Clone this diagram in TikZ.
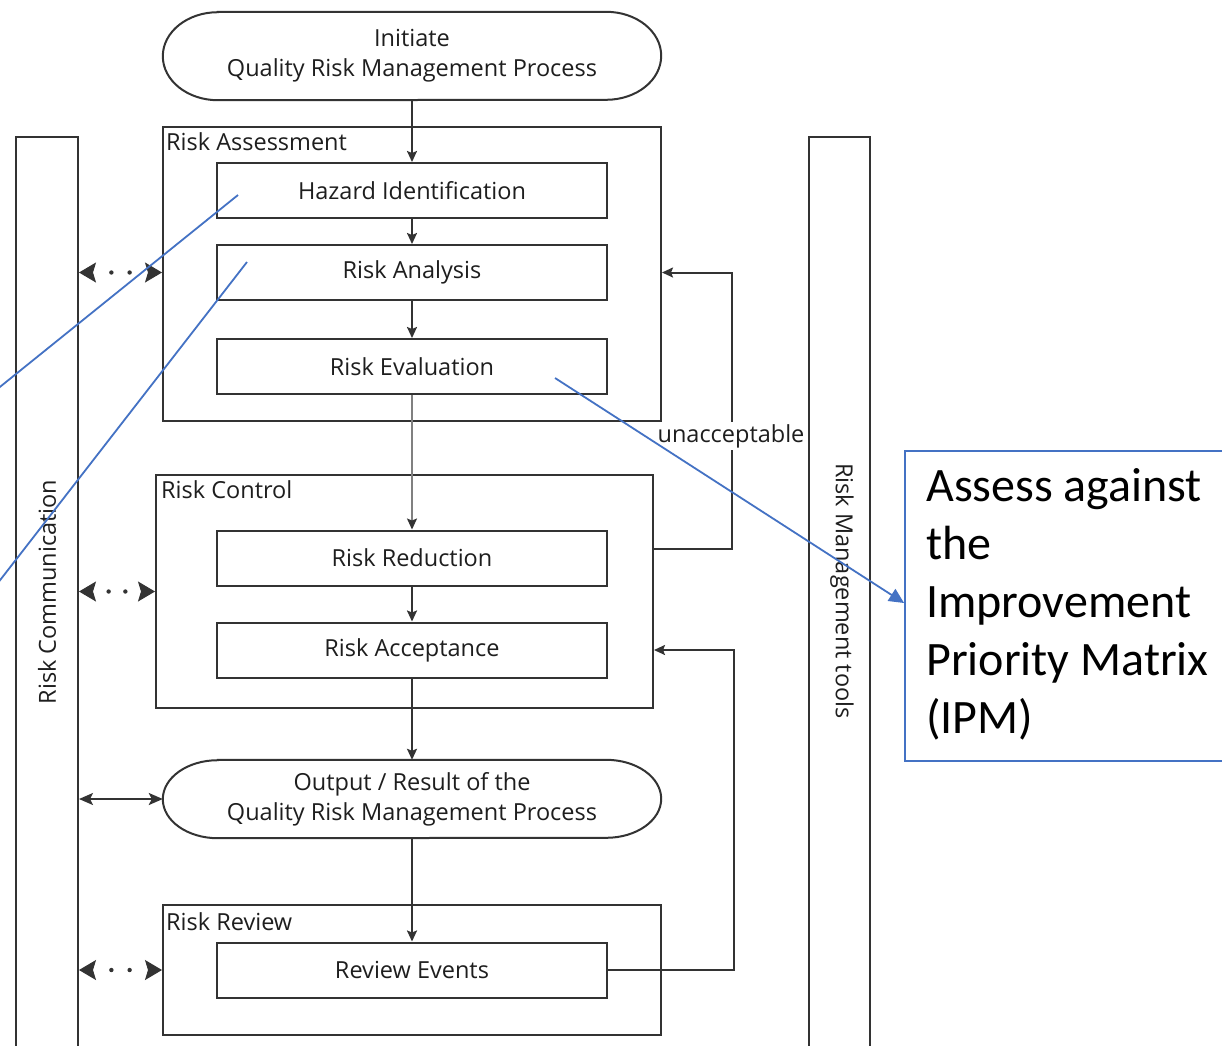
\documentclass[tikz,border=0pt]{standalone}
\usepackage{fontspec}
\setmainfont{Open Sans}
\newfontfamily\calloutfont{Carlito}
\usetikzlibrary{arrows.meta,decorations.markings,calc}

\definecolor{linec}{HTML}{333333}
\definecolor{txt}{HTML}{1E1E1E}
\definecolor{office}{HTML}{4472C4}

\newcommand\diagfont{\fontsize{23.5}{30}\selectfont}

% outline of a stadium-shaped terminal around a named node
\newcommand\stadiumoutline[3]{%
  \draw[frame] ([xshift=#2]#1.north west) -- ([xshift=-#2]#1.north east)
    arc[start angle=90,end angle=-90,x radius=#2,y radius=#3]
    -- ([xshift=#2]#1.south west)
    arc[start angle=270,end angle=90,x radius=#2,y radius=#3] -- cycle;}

\begin{document}
\begin{tikzpicture}[x=1pt,y=-1pt,
  every node/.style={font=\diagfont, text=txt},
  frame/.style={draw=linec, line width=2pt},
  procbox/.style={frame, rectangle, minimum width=390pt, minimum height=55pt, inner sep=0pt},
  group/.style={frame, rectangle, inner sep=0pt},
  stadium/.style={rectangle, align=center, inner sep=0pt, minimum width=498pt},
  column/.style={frame, rectangle, inner sep=0pt, minimum height=910pt},
  grouplabel/.style={anchor=base west, inner sep=0pt},
  conn/.style={draw=linec, line width=2pt, -{Stealth[length=11pt,width=10pt,inset=2pt]}},
  midconn/.style={draw=gray, line width=1.6pt, -{Stealth[length=11pt,width=10pt,inset=2pt,color=linec]}},
  twoway/.style={draw=linec, line width=2pt,
    {Stealth[length=14pt,width=12pt,inset=3pt]}-{Stealth[length=14pt,width=12pt,inset=3pt]}},
  dotconn/.style={draw=white, line width=1pt,
    {Stealth[length=17pt,width=20pt,inset=3pt,color=linec,fill=linec]}-{Stealth[length=17pt,width=20pt,inset=3pt,color=linec,fill=linec]},
    postaction={decorate, decoration={markings,
      mark=at position 0.39 with {\fill[linec] (0,0) circle (2.2pt);},
      mark=at position 0.61 with {\fill[linec] (0,0) circle (2.2pt);}}}},
  blueline/.style={draw=office, line width=1.8pt},
  bluearrow/.style={blueline, -{Triangle[length=15pt,width=14pt]}},
  callbox/.style={draw=office, line width=1.8pt, rectangle, inner sep=0pt,
    minimum width=340pt, minimum height=310pt},
  calltext/.style={font={\calloutfont\fontsize{48}{58}\selectfont}, text=black,
    align=left, inner sep=0pt, anchor=base west}
]
\useasboundingbox (0,0) rectangle (1222,1045);
\fill[white] (0,0) rectangle (1222,1045);
\clip (0,0) rectangle (1222,1045);

% side columns
\node[column, minimum width=62pt] (Lcol) at (47,592) {};
\node[column, minimum width=61pt] (Rcol) at (839.5,592) {};
\node[rotate=90, inner sep=0pt] at (Lcol.center) {Risk Communication};
\node[rotate=-90, inner sep=0pt] at (842,591) {Risk Management tools};

% terminals
\node[stadium, minimum height=88pt] (Init) at (412,56) {Initiate\\Quality Risk Management Process};
\stadiumoutline{Init}{55pt}{44pt}
\node[stadium, minimum height=78pt] (Out) at (412,799) {Output / Result of the\\Quality Risk Management Process};
\stadiumoutline{Out}{55pt}{39pt}

% stage groups
\node[group, minimum width=498pt, minimum height=294pt] (RA) at (412,274) {};
\node[group, minimum width=497pt, minimum height=233pt] (RC) at (404.5,591.5) {};
\node[group, minimum width=498pt, minimum height=130pt] (RR) at (412,970) {};
\node[grouplabel] at ([xshift=4pt,yshift=-24pt]RA.north west) {Risk Assessment};
\node[grouplabel] at ([xshift=6pt,yshift=-24pt]RC.north west) {Risk Control};
\node[grouplabel] at ([xshift=4pt,yshift=-26pt]RR.north west) {Risk Review};

% process steps
\node[procbox] (Haz) at (412,190.5) {Hazard Identification};
\node[procbox] (Ana) at (412,272.5) {Risk Analysis};
\node[procbox] (Eva) at (412,366.5) {Risk Evaluation};
\node[procbox] (Red) at (412,558) {Risk Reduction};
\node[procbox] (Acc) at (412,650) {Risk Acceptance};
\node[procbox] (Rev) at (412,970) {Review Events};

% main flow
\draw[conn] (Init.south) -- (Haz.north);
\draw[conn] (Haz.south) -- (Ana.north);
\draw[conn] (Ana.south) -- (Eva.north);
\draw[midconn] (Eva.south) -- (Red.north);
\draw[conn] (Red.south) -- (Acc.north);
\draw[conn] (Acc.south) -- (Out.north);
\draw[conn] (Out.south) -- (Rev.north);

% feedback loops
\draw[conn] ([yshift=9pt]RC.east |- Red.east) -- ++(78,0) |- (RA.east |- Ana.east);
\node[fill=white, inner sep=2pt] (unacc) at (731,436) {unacceptable};
\draw[conn] (Rev.east) -- ++(126,0) |- (RC.east |- Acc.east);

% communication links
\draw[dotconn] (Lcol.east |- Ana) -- (RA.west |- Ana);
\draw[dotconn] (Lcol.east |- RC) -- (RC.west);
\draw[twoway] (Lcol.east |- Out) -- (Out.west);
\draw[dotconn] (Lcol.east |- Rev) -- (RR.west |- Rev);

% annotation
\coordinate (p1) at (238,195);
\coordinate (q1) at (-20,403);
\coordinate (p2) at (247,262);
\coordinate (q2) at (-20,606);
\coordinate (p3) at (555,378);
\draw[blueline] (p1) -- (q1);
\draw[blueline] (p2) -- (q2);
\node[callbox] (callout) at (1075,606) {};
\node[calltext] at (926,733) {Assess against\\the\\Improvement\\Priority Matrix\\(IPM)};
\draw[bluearrow] (p3) -- ([yshift=3pt]callout.west);
\end{tikzpicture}
\end{document}
